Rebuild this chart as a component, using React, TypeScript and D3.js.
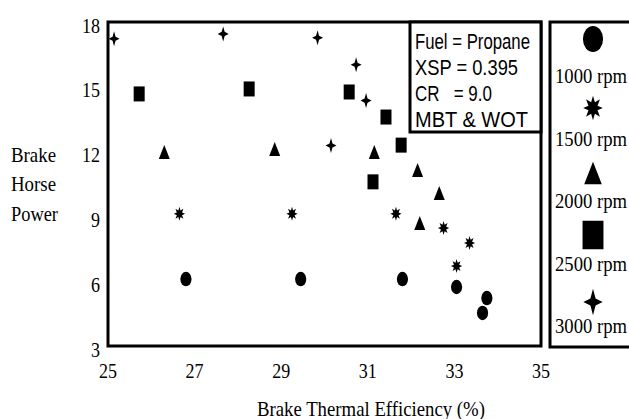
import React from 'react';
import * as d3 from 'd3';

// ---- data ----
const xTicks = [25, 27, 29, 31, 33, 35];
const yTicks = [3, 6, 9, 12, 15, 18];
const rpmLabels = ['1000 rpm', '1500 rpm', '2000 rpm', '2500 rpm', '3000 rpm'];

const bte1000 = [26.8, 29.45, 31.8, 33.05, 33.75, 33.65];
const bhp1000 = [6.1, 6.1, 6.1, 5.73, 5.22, 4.53];

const bte1500 = [26.65, 29.25, 31.65, 32.75, 33.35, 33.05];
const bhp1500 = [9.12, 9.12, 9.12, 8.46, 7.77, 6.7];

const bte2000 = [26.3, 28.85, 31.15, 32.15, 32.65, 32.2];
const bhp2000 = [11.98, 12.12, 11.98, 11.15, 10.08, 8.69];

const bte2500 = [25.72, 28.26, 30.57, 31.42, 31.77, 31.12];
const bhp2500 = [14.67, 14.9, 14.76, 13.6, 12.3, 10.6];

const bte3000 = [25.14, 27.66, 29.84, 30.73, 30.96, 30.15];
const bhp3000 = [17.22, 17.45, 17.27, 16.02, 14.36, 12.28];

const annotationLines = ['Fuel = Propane', 'XSP = 0.395', 'CR   = 9.0', 'MBT & WOT'];
const yTitleLines = ['Brake', 'Horse', 'Power'];
const xTitle = 'Brake Thermal Efficiency (%)';

type Shape = 'circle' | 'asterisk' | 'triangle' | 'square' | 'star4';
const shapes: Shape[] = ['circle', 'asterisk', 'triangle', 'square', 'star4'];
const seriesX = [bte1000, bte1500, bte2000, bte2500, bte3000];
const seriesY = [bhp1000, bhp1500, bhp2000, bhp2500, bhp3000];

// ---- layout ----
const W = 629, H = 419;
const L = 108, T = 22, R = 541, B = 346;
const serif = '"Liberation Serif", "Times New Roman", serif';
const sans = '"Liberation Sans Narrow", "Liberation Sans", Arial, sans-serif';

function starPath(n: number, rx: number, ry: number, inner: number, rot = -Math.PI / 2) {
  const pts: [number, number][] = [];
  for (let i = 0; i < n * 2; i++) {
    const a = rot + (i * Math.PI) / n;
    const r = i % 2 === 0 ? 1 : inner;
    pts.push([Math.cos(a) * rx * r, Math.sin(a) * ry * r]);
  }
  return 'M' + pts.map((p) => p[0].toFixed(2) + ',' + p[1].toFixed(2)).join('L') + 'Z';
}

function Marker({ shape, x, y, s }: { shape: Shape; x: number; y: number; s: number }) {
  const t = `translate(${x},${y})`;
  switch (shape) {
    case 'circle':
      return <ellipse cx={x} cy={y} rx={5.6 * s} ry={7.2 * s} fill="#000" />;
    case 'asterisk':
      return <path transform={t} d={starPath(8, 5.6 * s, 7 * s, 0.5)} fill="#000" />;
    case 'triangle': {
      const w = 11 * s, h = 14 * s;
      return <path transform={t} d={`M0,${-h / 2}L${w / 2},${h / 2}L${-w / 2},${h / 2}Z`} fill="#000" />;
    }
    case 'square': {
      const w = 11 * s, h = 15 * s;
      return <rect x={x - w / 2} y={y - h / 2} width={w} height={h} fill="#000" />;
    }
    case 'star4':
      return <path transform={t} d={starPath(4, 5.5 * s, 7.5 * s, 0.38)} fill="#000" />;
  }
}

export default function App() {
  const x = d3.scaleLinear().domain([25, 35]).range([L, R]);
  const y = d3.scaleLinear().domain([3, 18]).range([B, T]);

  const legendMarkerY = [39, 108, 173, 235, 302];
  const legendTextY = [75, 138, 200, 263, 325];
  const legendScale = [1.8, 1.75, 1.6, 1.9, 1.75];

  return (
    <svg width={W} height={H} style={{ position: 'absolute', left: 0, top: 0, background: '#fff' }}>
      <rect x={0} y={0} width={W} height={H} fill="#fff" />
      {/* plot frame */}
      <rect x={L} y={T} width={R - L} height={B - T} fill="none" stroke="#000" strokeWidth={3} />

      {/* y tick labels */}
      {yTicks.map((v) => (
        <text key={'y' + v} x={100} y={y(v) + 3} textAnchor="end" dominantBaseline="central"
          fontFamily={serif} fontSize={22}
          textLength={v >= 10 ? 18 : 9} lengthAdjust="spacingAndGlyphs">{v}</text>
      ))}
      {/* x tick labels */}
      {xTicks.map((v) => (
        <text key={'x' + v} x={x(v)} y={370} textAnchor="middle" dominantBaseline="central"
          fontFamily={serif} fontSize={22} textLength={18} lengthAdjust="spacingAndGlyphs">{v}</text>
      ))}

      {/* axis titles */}
      {yTitleLines.map((s, i) => (
        <text key={s} x={11} y={154 + i * 29.5} dominantBaseline="central" fontFamily={serif} fontSize={22}
          textLength={i === 2 ? 47 : 45} lengthAdjust="spacingAndGlyphs">{s}</text>
      ))}
      <text x={257} y={408} dominantBaseline="central" fontFamily={serif} fontSize={22}
        textLength={228} lengthAdjust="spacingAndGlyphs">{xTitle}</text>

      {/* data markers */}
      {shapes.map((sh, si) =>
        seriesX[si].map((v, i) => (
          <Marker key={sh + i} shape={sh} x={x(v)} y={y(seriesY[si][i])} s={1} />
        ))
      )}

      {/* annotation box */}
      <rect x={410} y={T} width={R - 410} height={132 - T} fill="#fff" stroke="#000" strokeWidth={3} />
      {annotationLines.map((s, i) => (
        <text key={s} x={415} y={41 + i * 26} dominantBaseline="central" fontFamily={sans} fontSize={22}
          style={{ whiteSpace: 'pre' }}
          textLength={[115, 103, 77, 113][i]} lengthAdjust="spacingAndGlyphs">{s}</text>
      ))}

      {/* legend */}
      <rect x={550} y={T} width={90} height={347 - T} fill="#fff" stroke="#000" strokeWidth={3} />
      {shapes.map((sh, i) => (
        <g key={'lg' + sh}>
          <Marker shape={sh} x={593} y={legendMarkerY[i]} s={legendScale[i]} />
          <text x={555} y={legendTextY[i]} dominantBaseline="central" fontFamily={serif} fontSize={22}
            textLength={72} lengthAdjust="spacingAndGlyphs">{rpmLabels[i]}</text>
        </g>
      ))}
    </svg>
  );
}
